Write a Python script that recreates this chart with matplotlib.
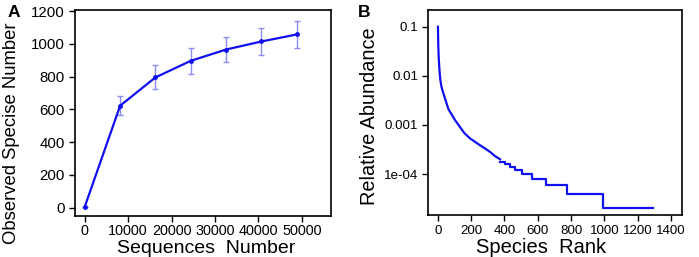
import matplotlib
matplotlib.use('Agg')
import matplotlib.pyplot as plt
import numpy as np

plt.rcParams['font.family'] = ['Liberation Sans', 'DejaVu Sans']

# panel A: rarefaction curve
seq_number = [0, 8140, 16280, 24420, 32560, 40700, 48840]
observed = [6, 622, 795, 896, 965, 1014, 1057]
observed_err = [0, 57, 73, 81, 79, 83, 83]

# panel B: rank abundance curve (head part, then step tail)
head_rank = [1, 3, 6, 10, 15, 22, 30, 44, 64, 80, 104, 134, 160, 194, 225, 254, 285, 314, 345, 374]
head_abund = [0.1, 0.04, 0.022, 0.013, 0.0085, 0.006, 0.0048, 0.0034, 0.0021, 0.0017,
              0.00125, 0.00090, 0.00068, 0.00053, 0.00045, 0.000385, 0.00033, 0.000282, 0.00023, 0.0002]
tail_abund = [1.8e-4, 1.6e-4, 1.4e-4, 1.2e-4, 1.0e-4, 8e-5, 6e-5, 4e-5, 2e-5]
tail_end = [404, 434, 464, 504, 568, 649, 775, 992, 1293]

blue = '#1010ee'

fig = plt.figure(figsize=(6.99, 2.57), dpi=100)
axA = fig.add_axes([0.107, 0.16, 0.367, 0.801])
axB = fig.add_axes([0.612, 0.163, 0.364, 0.798])

# --- A ---
axA.errorbar(seq_number, observed, yerr=observed_err, color=blue, lw=1.6,
             marker='o', ms=2.5, ecolor='#8c8cf5', elinewidth=1, capsize=2, capthick=1)
axA.set_xlim(-2300, 56800)
axA.set_ylim(-50, 1206)
axA.set_xticks([0, 10000, 20000, 30000, 40000, 50000])
axA.set_yticks(range(0, 1201, 200))
axA.set_xlabel('Sequences  Number', fontsize=14)
axA.set_ylabel('Observed Specise Number', fontsize=13.3)
axA.yaxis.set_label_coords(-0.215, 0.40)
axA.xaxis.set_label_coords(0.513, -0.16)
axA.tick_params(axis='y', labelsize=10.8, pad=3)
axA.tick_params(axis='x', labelsize=10.4, pad=2)

# --- B ---
axB.plot(head_rank, head_abund, color=blue, lw=1.6)
step_x = [head_rank[-1]] + tail_end
step_y = tail_abund + [tail_abund[-1]]
axB.step(step_x, step_y, where='post', color=blue, lw=1.6)
axB.set_yscale('log')
axB.set_xlim(-60, 1467)
axB.set_ylim(1.46e-5, 0.219)
axB.set_xticks(range(0, 1401, 200))
axB.set_yticks([0.1, 0.01, 0.001, 1e-4])
axB.set_yticklabels(['0.1', '0.01', '0.001', '1e-04'])
axB.minorticks_off()
axB.set_xlabel('Species  Rank', fontsize=14.5)
axB.set_ylabel('Relative Abundance', fontsize=14.3)
axB.yaxis.set_label_coords(-0.19, 0.48)
axB.xaxis.set_label_coords(0.447, -0.16)
axB.tick_params(labelsize=9.6, pad=3)

for ax in (axA, axB):
    for s in ax.spines.values():
        s.set_linewidth(1.2)
    ax.tick_params(direction='out', length=4, width=1)
    ax.xaxis.label.set_va('center')

fig.text(0.011, 0.982, 'A', fontsize=12.5, fontweight='bold', va='top')
fig.text(0.512, 0.982, 'B', fontsize=12.5, fontweight='bold', va='top')

fig.savefig('out.png', dpi=100)
